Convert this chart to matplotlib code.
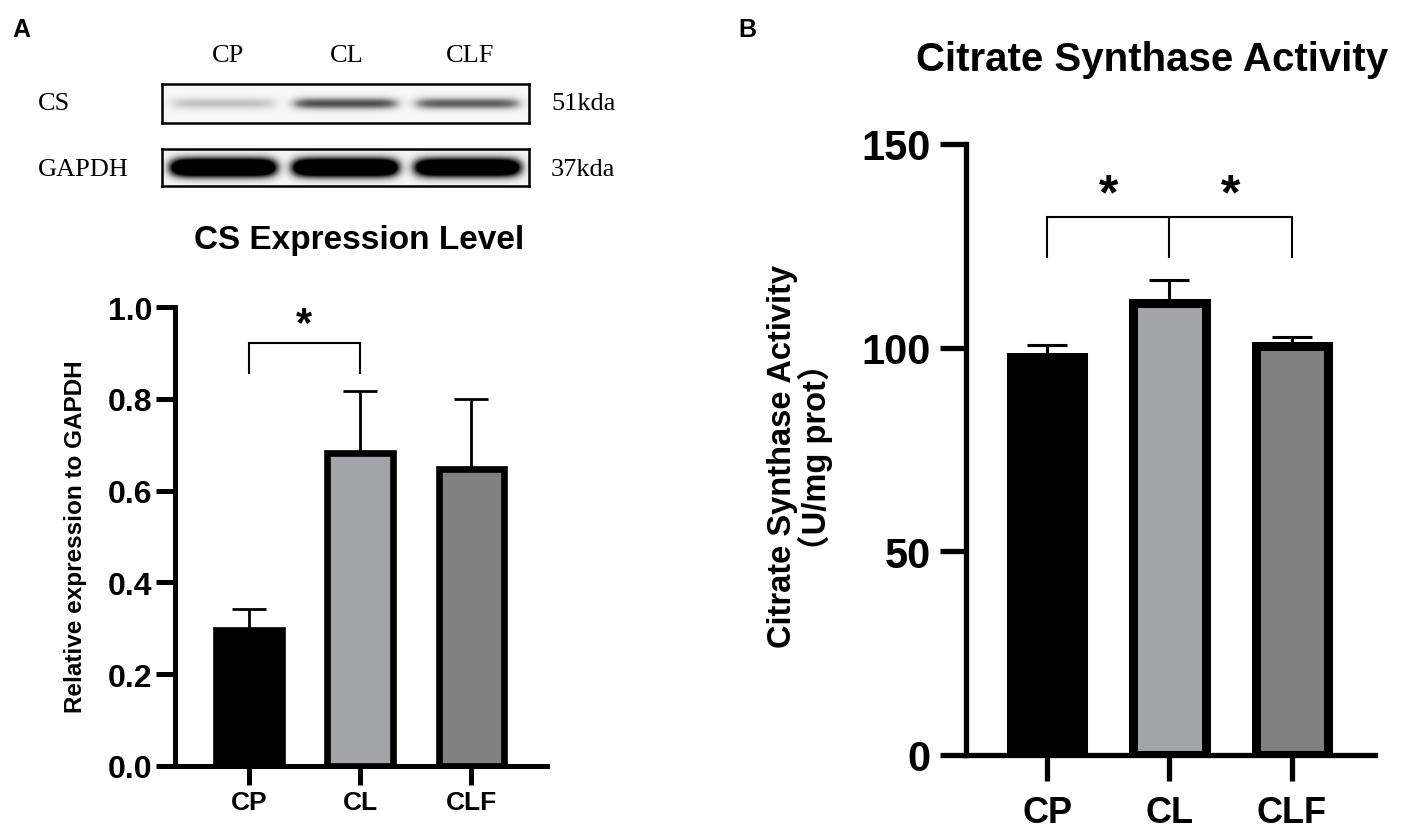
import numpy as np
import matplotlib
matplotlib.use("Agg")
import matplotlib.pyplot as plt

plt.rcParams["font.family"] = ["Liberation Sans", "DejaVu Sans"]
plt.rcParams["font.weight"] = "bold"

# ---- data -------------------------------------------------------------
groups = ["CP", "CL", "CLF"]
bar_colors = ["#000000", "#a3a4a8", "#7f807f"]

# panel A: CS protein expression (relative to GAPDH)
cs_expr_mean = [0.297, 0.682, 0.648]
cs_expr_err = [0.044, 0.135, 0.151]
cs_expr_ticks = [0.0, 0.2, 0.4, 0.6, 0.8, 1.0]

# panel B: citrate synthase activity (U/mg prot)
cs_act_mean = [97.8, 111.0, 100.5]
cs_act_err = [2.9, 5.6, 2.1]
cs_act_ticks = [0, 50, 100, 150]

# western blot band strength per lane (0..1)
blot_rows = ["CS", "GAPDH"]
blot_sizes = ["51kda", "37kda"]
cs_band_strength = [0.32, 0.78, 0.72]
gapdh_band_strength = [1.0, 1.0, 0.95]

W, H = 1421, 829
fig = plt.figure(figsize=(W / 100, H / 100), dpi=100)


def px_axes(left, top, right, bottom):
    return fig.add_axes([left / W, 1 - bottom / H, (right - left) / W, (bottom - top) / H])


def ftext(x, y, s, **kw):
    fig.text(x / W, 1 - y / H, s, **kw)


def bar_panel(ax, means, errs, ticks, ymax, spine_w, edge_w, tick_len,
              ylab_size, xlab_size, ypad, xpad, err_w, cap):
    x = np.arange(len(groups))
    ax.errorbar(x, means, yerr=[np.zeros(len(errs)), errs], fmt="none",
                ecolor="black", elinewidth=err_w, capsize=cap, capthick=err_w, zorder=2)
    ax.bar(x, means, width=0.59, color=bar_colors, edgecolor="black",
           linewidth=edge_w, zorder=3)
    ax.set_xlim(-0.663, 2.68)
    ax.set_ylim(0, ymax)
    ax.set_yticks(ticks)
    ax.set_xticks(x)
    ax.set_xticklabels(groups)
    for s in ["top", "right"]:
        ax.spines[s].set_visible(False)
    for s in ["left", "bottom"]:
        ax.spines[s].set_linewidth(spine_w)
    ax.tick_params(axis="y", length=tick_len, width=spine_w, labelsize=ylab_size, pad=ypad)
    ax.tick_params(axis="x", length=tick_len, width=spine_w, labelsize=xlab_size, pad=xpad)


def bracket(ax, x0, x1, y_top, y_leg, lw, mids=()):
    ax.plot([x0, x0, x1, x1], [y_leg, y_top, y_top, y_leg], color="black", lw=lw,
            clip_on=False, solid_capstyle="butt", solid_joinstyle="miter")
    for m in mids:
        ax.plot([m, m], [y_top, y_leg], color="black", lw=lw, clip_on=False,
                solid_capstyle="butt")


# ---- panel A : western blot ------------------------------------------
def blot(top, bottom, strength, sigma, gain):
    ax = px_axes(162, top, 529, bottom)
    xs = np.linspace(0, 3, 600)
    ys = np.linspace(-0.5, 0.5, 80)
    X, Y = np.meshgrid(xs, ys)
    img = np.full(X.shape, 0.06)
    for i, s in enumerate(strength):
        prof = np.exp(-((X - (i + 0.5)) / 0.44) ** 8) * np.exp(-(Y / sigma) ** 2)
        img = img + gain * s * prof
    ax.imshow(np.clip(img, 0, 1), cmap="Greys", vmin=0, vmax=1, aspect="auto",
              extent=[0, 3, 0, 1], interpolation="bilinear")
    ax.set_xticks([])
    ax.set_yticks([])
    for sp in ax.spines.values():
        sp.set_linewidth(1.8)


blot(85, 124, cs_band_strength, 0.16, 0.9)
blot(150, 187, gapdh_band_strength, 0.26, 1.8)

serif = ["Liberation Serif", "DejaVu Serif"]
for x, g in zip([228, 347, 470], groups):
    ftext(x, 56, g, family=serif, fontweight="normal", fontsize=19, ha="center", va="center")
for y, r, kd in zip([104, 170], blot_rows, blot_sizes):
    ftext(38, y, r, family=serif, fontweight="normal", fontsize=19, ha="left", va="center")
    ftext(551, y, kd, family=serif, fontweight="normal", fontsize=19, ha="left", va="center")

# ---- panel A : bar chart ----------------------------------------------
axA = px_axes(175, 308, 547, 767)
bar_panel(axA, cs_expr_mean, cs_expr_err, cs_expr_ticks, 1.0, 3.6, 4.8, 13.5,
          23, 19, 3, 4, 2.0, 12.4)
bracket(axA, 0, 1, 0.921, 0.855, 1.5)
axA.text(0.5, 0.962, "*", ha="center", va="center", fontsize=30)
ftext(359, 240, "CS Expression Level", fontsize=24, ha="center", va="center")
ftext(76, 537, "Relative expression to GAPDH", fontsize=17.5, rotation=90,
      ha="center", va="center")

# ---- panel B : bar chart ----------------------------------------------
axB = px_axes(966, 145, 1375, 756)
bar_panel(axB, cs_act_mean, cs_act_err, cs_act_ticks, 150, 3.8, 6.5, 18.5,
          30, 26, 7, 10, 2.2, 14.4)
bracket(axB, 0, 2, 132, 122, 1.5, mids=(1,))
axB.text(0.5, 137.5, "*", ha="center", va="center", fontsize=36)
axB.text(1.5, 137.5, "*", ha="center", va="center", fontsize=36)
ftext(1152, 60, "Citrate Synthase Activity", fontsize=29, ha="center", va="center")
ftext(800, 457, "Citrate Synthase Activity\n（U/mg prot）", fontsize=23.5, rotation=90,
      ha="center", va="center", multialignment="center", linespacing=1.0,
      family=["Liberation Sans", "Noto Sans CJK SC", "DejaVu Sans"])

# panel letters
ftext(12, 30, "A", fontsize=18, ha="left", va="center")
ftext(738, 30, "B", fontsize=18, ha="left", va="center")

fig.savefig("out.png", dpi=100)
